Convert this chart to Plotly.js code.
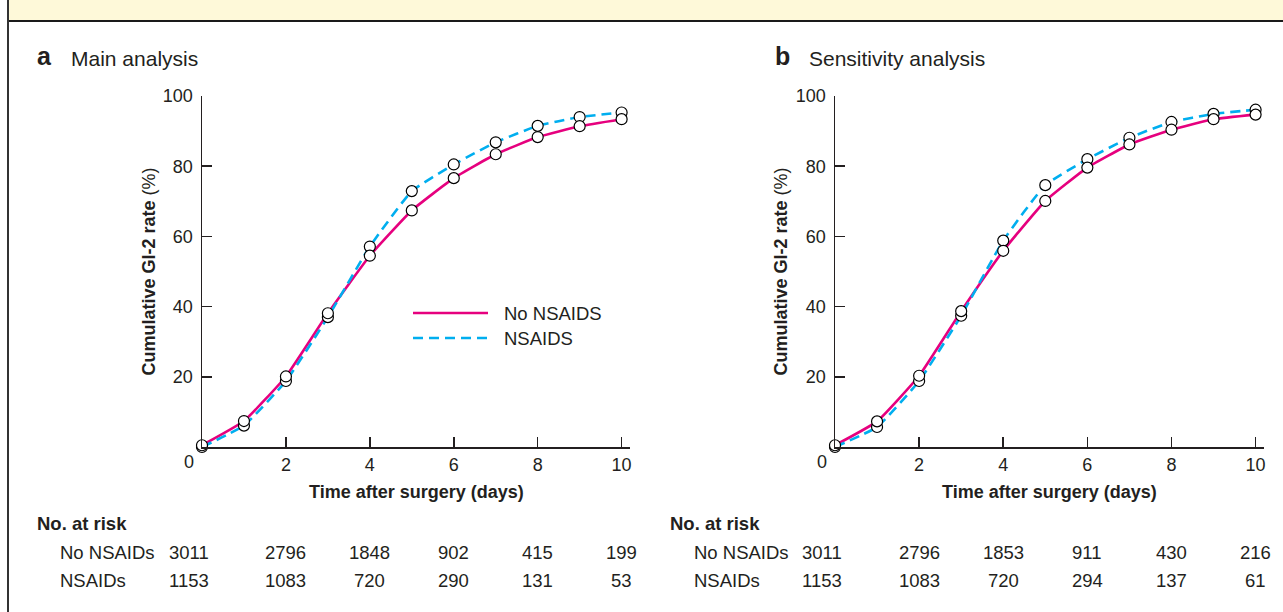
<!DOCTYPE html>
<html>
<head>
<meta charset="utf-8">
<script src="https://cdn.plot.ly/plotly-3.0.1.min.js"></script>
<style>
  html, body { margin: 0; padding: 0; background: #ffffff; }
  #chart { width: 1283px; height: 612px; }
</style>
</head>
<body>
<div id="chart"></div>
<script>
// ---- Data ----
const days = [0, 1, 2, 3, 4, 5, 6, 7, 8, 9, 10];
const mainNoNSAIDs = [0.5, 7.4, 20.1, 38.1, 54.5, 67.4, 76.6, 83.4, 88.3, 91.4, 93.4];
const mainNSAIDs   = [0.0, 6.1, 18.8, 37.0, 57.1, 72.9, 80.5, 86.8, 91.5, 94.0, 95.3];
const sensNoNSAIDs = [0.5, 7.3, 20.3, 38.7, 55.9, 70.1, 79.6, 86.2, 90.4, 93.4, 94.7];
const sensNSAIDs   = [0.0, 5.7, 18.8, 37.4, 58.8, 74.6, 82.0, 88.1, 92.6, 94.9, 96.1];

const riskDays = [0, 2, 4, 6, 8, 10];
const mainRiskNoNSAIDs = [3011, 2796, 1848, 902, 415, 199];
const mainRiskNSAIDs   = [1153, 1083, 720, 290, 131, 53];
const sensRiskNoNSAIDs = [3011, 2796, 1853, 911, 430, 216];
const sensRiskNSAIDs   = [1153, 1083, 720, 294, 137, 61];

const xTickVals = [2, 4, 6, 8, 10];
const yTickVals = [20, 40, 60, 80, 100];
const seriesNames = ['No NSAIDS', 'NSAIDS'];
const rowLabels = ['No NSAIDs', 'NSAIDs'];
const panelLetters = ['a', 'b'];
const panelTitles = ['Main analysis', 'Sensitivity analysis'];
const xTitle = 'Time after surgery (days)';
const yTitle = 'Cumulative GI-2 rate <span style="font-weight:normal">(%)</span>';

// ---- Style ----
const W = 1283, H = 612;
const FONT = 'Liberation Sans, Arial, Helvetica, sans-serif';
const TXT = '#231f20';
const PINK = '#e6007e';
const BLUE = '#00aeef';
const px = v => v / W;
const py = v => 1 - v / H;
const FS = 18;

const traces = [];
const panels = [
  {xa: 'x', ya: 'y', no: mainNoNSAIDs, ns: mainNSAIDs},
  {xa: 'x2', ya: 'y2', no: sensNoNSAIDs, ns: sensNSAIDs}
];
// lines first
panels.forEach(p => {
  traces.push({x: days, y: p.no, xaxis: p.xa, yaxis: p.ya, type: 'scatter', mode: 'lines',
    line: {color: PINK, width: 2.6, shape: 'spline', smoothing: 0.4}, showlegend: false, hoverinfo: 'skip', name: seriesNames[0]});
  traces.push({x: days, y: p.ns, xaxis: p.xa, yaxis: p.ya, type: 'scatter', mode: 'lines',
    line: {color: BLUE, width: 2.6, dash: '10px,6px', shape: 'spline', smoothing: 0.4}, showlegend: false, hoverinfo: 'skip', name: seriesNames[1]});
});
// markers on top
panels.forEach(p => {
  [p.ns, p.no].forEach((vals, i) => {
    traces.push({x: days, y: vals, xaxis: p.xa, yaxis: p.ya, type: 'scatter', mode: 'markers',
      marker: {symbol: 'circle', size: 11, color: '#ffffff', line: {color: '#000000', width: 1.2}},
      cliponaxis: false, showlegend: false, hoverinfo: 'skip', name: seriesNames[1 - i]});
  });
});

const yDom = [py(447), py(96)];
function xAxis(domain, anchor) {
  return {domain: domain, anchor: anchor, range: [0, 10.2], showgrid: false, zeroline: false,
    showline: true, linecolor: TXT, linewidth: 1.5, ticks: 'inside', ticklen: 10, tickwidth: 1.5, tickcolor: TXT,
    tickvals: xTickVals, ticktext: xTickVals.map(String), tickfont: {family: FONT, size: FS, color: TXT},
    ticklabelstandoff: 1, fixedrange: true};
}
function yAxis(anchor) {
  return {domain: yDom, anchor: anchor, range: [0, 100], showgrid: false, zeroline: false,
    showline: true, linecolor: TXT, linewidth: 1.5, ticks: 'inside', ticklen: 10, tickwidth: 1.5, tickcolor: TXT,
    tickvals: yTickVals, ticktext: yTickVals.map(String), tickfont: {family: FONT, size: FS, color: TXT},
    ticklabelstandoff: 4, fixedrange: true};
}

const shapes = [
  // header bar
  {type: 'rect', xref: 'paper', yref: 'paper', x0: px(8), x1: 1, y0: py(20), y1: 1, fillcolor: '#fef9d9', line: {width: 0}, layer: 'below'},
  {type: 'line', xref: 'paper', yref: 'paper', x0: px(8), x1: 1, y0: py(21), y1: py(21), line: {color: '#1a1a1a', width: 2}},
  {type: 'line', xref: 'paper', yref: 'paper', x0: px(8), x1: px(8), y0: 0, y1: 1, line: {color: '#333333', width: 2}},
  // legend
  {type: 'line', xref: 'paper', yref: 'paper', x0: px(413), x1: px(488), y0: py(313), y1: py(313), line: {color: PINK, width: 2.6}},
  {type: 'line', xref: 'paper', yref: 'paper', x0: px(413), x1: px(488), y0: py(338), y1: py(338), line: {color: BLUE, width: 2.6, dash: '10px,6px'}}
];

const ann = [];
const baseFont = {family: FONT, size: FS, color: TXT};
const tabFont = {family: FONT, size: 18.5, color: TXT};
// legend text
seriesNames.forEach((s, i) => ann.push({text: s, xref: 'paper', yref: 'paper', x: px(502), y: py(313 + 25 * i),
  xanchor: 'left', yanchor: 'middle', showarrow: false, font: {family: FONT, size: 18.5, color: TXT}}));

const panelGeo = [
  {xa: 'x', ya: 'y', letterX: 35, titleX: 69, yTitleX: 148, labX: 35, rowX: 58,
   risk: [mainRiskNoNSAIDs, mainRiskNSAIDs]},
  {xa: 'x2', ya: 'y2', letterX: 773, titleX: 807, yTitleX: 780, labX: 668, rowX: 692,
   risk: [sensRiskNoNSAIDs, sensRiskNSAIDs]}
];
panelGeo.forEach((g, k) => {
  ann.push({text: '<b>' + panelLetters[k] + '</b>', xref: 'paper', yref: 'paper', x: px(g.letterX), y: py(56),
    xanchor: 'left', yanchor: 'middle', showarrow: false, font: {family: FONT, size: 25, color: TXT}});
  ann.push({text: panelTitles[k], xref: 'paper', yref: 'paper', x: px(g.titleX), y: py(58),
    xanchor: 'left', yanchor: 'middle', showarrow: false, font: {family: FONT, size: 21, color: TXT}});
  // origin "0"
  ann.push({text: '0', xref: g.xa, yref: g.ya, x: 0, y: 0, xshift: -13, yshift: -15,
    xanchor: 'center', yanchor: 'middle', showarrow: false, font: baseFont});
  // axis titles
  ann.push({text: '<b>' + xTitle + '</b>', xref: g.xa + ' domain', yref: 'paper', x: 0.5, y: py(492),
    xanchor: 'center', yanchor: 'middle', showarrow: false, font: {family: FONT, size: 18, color: TXT}});
  ann.push({text: '<b>' + yTitle + '</b>', xref: 'paper', yref: g.ya, x: px(g.yTitleX), y: 50, textangle: -90,
    xanchor: 'center', yanchor: 'middle', showarrow: false, font: {family: FONT, size: 18, color: TXT}});
  // risk table
  ann.push({text: '<b>No. at risk</b>', xref: 'paper', yref: 'paper', x: px(g.labX), y: py(523),
    xanchor: 'left', yanchor: 'middle', showarrow: false, font: tabFont});
  rowLabels.forEach((r, i) => {
    const yy = py(552 + 28 * i);
    ann.push({text: r, xref: 'paper', yref: 'paper', x: px(g.rowX), y: yy,
      xanchor: 'left', yanchor: 'middle', showarrow: false, font: tabFont});
    g.risk[i].forEach((v, j) => {
      ann.push({text: String(v), xref: g.xa, yref: 'paper', x: riskDays[j], y: yy, xshift: j === 0 ? -13 : 0,
        xanchor: 'center', yanchor: 'middle', showarrow: false, font: tabFont});
    });
  });
});

const layout = {
  width: W, height: H, margin: {l: 0, r: 0, t: 0, b: 0},
  paper_bgcolor: '#ffffff', plot_bgcolor: 'rgba(0,0,0,0)',
  showlegend: false,
  font: {family: FONT, color: TXT},
  xaxis: xAxis([px(202), px(630)], 'y'),
  yaxis: yAxis('x'),
  xaxis2: xAxis([px(835), px(1264)], 'y2'),
  yaxis2: yAxis('x2'),
  shapes: shapes,
  annotations: ann
};

Plotly.newPlot('chart', traces, layout, {displayModeBar: false, staticPlot: true});
</script>
</body>
</html>
